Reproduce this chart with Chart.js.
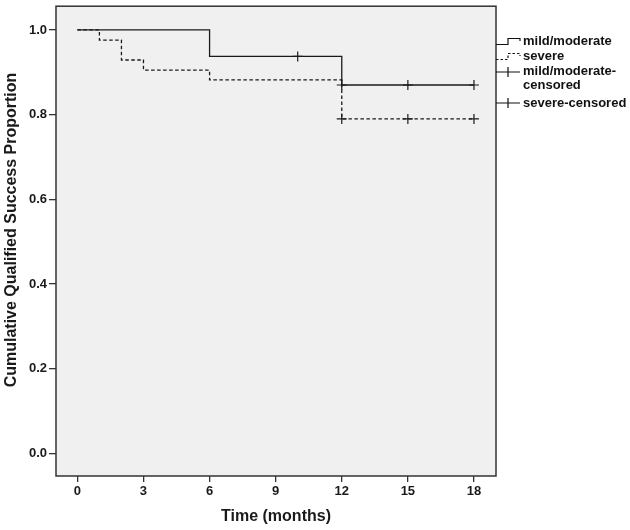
<!DOCTYPE html>
<html>
<head>
<meta charset="utf-8">
<script src="https://cdn.jsdelivr.net/npm/chart.js@4.4.1/dist/chart.umd.min.js"></script>
<style>
  body { margin: 0; background: #fff; }
  #wrap { position: relative; width: 630px; height: 530px; }
  #legend { position: absolute; left: 496px; top: 33px; font: bold 13px "Liberation Sans", Arial, sans-serif; color: #111; line-height: 14px; }
  .item { display: flex; align-items: center; height: 15px; }
  .item svg { flex: none; margin-right: 1px; }
  .item.two { align-items: flex-start; height: 31px; margin-top: 1px; }
</style>
</head>
<body>
<div id="wrap">
  <canvas id="km" width="630" height="530"></canvas>
  <div id="legend">
    <div class="item">
      <svg width="26" height="15"><path d="M0 11.5 H12 V5.5 H24 V8" fill="none" stroke="#111" stroke-width="1.2"/></svg>
      <span>mild/moderate</span>
    </div>
    <div class="item">
      <svg width="26" height="15"><path d="M0 11.5 H12 V5.5 H24 V8" fill="none" stroke="#111" stroke-width="1.2" stroke-dasharray="2.5,2"/></svg>
      <span>severe</span>
    </div>
    <div class="item two">
      <svg width="26" height="15"><path d="M0 8 H24 M12 3 V13" fill="none" stroke="#111" stroke-width="1.2"/></svg>
      <span>mild/moderate-<br>censored</span>
    </div>
    <div class="item">
      <svg width="26" height="15"><path d="M0 8 H24 M12 3 V13" fill="none" stroke="#111" stroke-width="1.2"/></svg>
      <span>severe-censored</span>
    </div>
  </div>
</div>
<script>
/* ─── DATA ─── */
const xTicks = [0, 3, 6, 9, 12, 15, 18];
const yTicks = [0, 0.2, 0.4, 0.6, 0.8, 1.0];

const mildTimes = [0, 6, 12, 18];
const mildSurv  = [1.0, 0.9375, 0.87, 0.87];
const mildCensTimes = [10, 12, 15, 18];
const mildCensSurv  = [0.9375, 0.87, 0.87, 0.87];

const severeTimes = [0, 1, 2, 3, 6, 12, 18];
const severeSurv  = [1.0, 0.976, 0.929, 0.905, 0.882, 0.79, 0.79];
const severeCensTimes = [12, 15, 18];
const severeCensSurv  = [0.79, 0.79, 0.79];

const INK = '#1a1a1a';
const FONT = "'Liberation Sans', Arial, sans-serif";

const pts = (xs, ys) => xs.map((x, i) => ({ x, y: ys[i] }));

/* plot box: light grey fill + dark frame */
const plotBox = {
  id: 'plotBox',
  beforeDraw(chart) {
    const { ctx, chartArea: a } = chart;
    ctx.save();
    ctx.fillStyle = '#f0f0f0';
    ctx.fillRect(a.left, a.top, a.right - a.left, a.bottom - a.top);
    ctx.restore();
  },
  afterDraw(chart) {
    const { ctx, chartArea: a } = chart;
    ctx.save();
    ctx.strokeStyle = '#333';
    ctx.lineWidth = 1.5;
    ctx.strokeRect(a.left, a.top, a.right - a.left, a.bottom - a.top);
    // y title, centred a little above the middle as in SPSS output
    ctx.translate(12, 230);
    ctx.rotate(-Math.PI / 2);
    ctx.fillStyle = INK;
    ctx.font = "bold 16px " + FONT;
    ctx.textAlign = 'center';
    ctx.textBaseline = 'middle';
    ctx.fillText('Cumulative Qualified Success Proportion', 0, 0);
    ctx.restore();
  }
};

new Chart(document.getElementById('km'), {
  type: 'line',
  data: {
    datasets: [
      {
        label: 'mild/moderate',
        data: pts(mildTimes, mildSurv),
        borderColor: INK, borderWidth: 1.3,
        stepped: 'before', pointRadius: 0, fill: false,
      },
      {
        label: 'severe',
        data: pts(severeTimes, severeSurv),
        borderColor: INK, borderWidth: 1.3, borderDash: [3.5, 2.5],
        stepped: 'before', pointRadius: 0, fill: false,
      },
      {
        label: 'mild/moderate-censored',
        data: pts(mildCensTimes, mildCensSurv),
        showLine: false,
        pointStyle: 'cross', pointRadius: 5, pointBorderWidth: 1.2,
        pointBorderColor: INK,
      },
      {
        label: 'severe-censored',
        data: pts(severeCensTimes, severeCensSurv),
        showLine: false,
        pointStyle: 'cross', pointRadius: 5, pointBorderWidth: 1.2,
        pointBorderColor: INK,
      }
    ]
  },
  options: {
    responsive: false,
    animation: false,
    layout: { padding: { top: 2, right: 134, left: 0, bottom: 0 } },
    plugins: { legend: { display: false }, tooltip: { enabled: false } },
    scales: {
      x: {
        type: 'linear',
        min: -0.97, max: 19.0,
        afterBuildTicks: s => { s.ticks = xTicks.map(v => ({ value: v })); },
        afterFit: s => { s.height = 54; s.paddingLeft = 0; s.paddingRight = 0; },
        grid: { drawOnChartArea: false, drawTicks: true, tickLength: 6, color: '#333', lineWidth: 1.3 },
        border: { display: false },
        ticks: { color: INK, font: { family: FONT, size: 13, weight: 'bold' }, padding: 2, maxRotation: 0 },
        title: { display: true, text: 'Time (months)', color: INK, font: { family: FONT, size: 16, weight: 'bold' }, padding: { top: 4 } }
      },
      y: {
        type: 'linear',
        min: -0.053, max: 1.056,
        afterBuildTicks: s => { s.ticks = yTicks.map(v => ({ value: v })); },
        afterFit: s => { s.width = 56; s.paddingTop = 0; s.paddingBottom = 0; },
        grid: { drawOnChartArea: false, drawTicks: true, tickLength: 7, color: '#333', lineWidth: 1.3 },
        border: { display: false },
        ticks: { color: INK, font: { family: FONT, size: 13, weight: 'bold' }, padding: 2, callback: v => v.toFixed(1) }
      }
    }
  },
  plugins: [plotBox]
});
</script>
</body>
</html>
